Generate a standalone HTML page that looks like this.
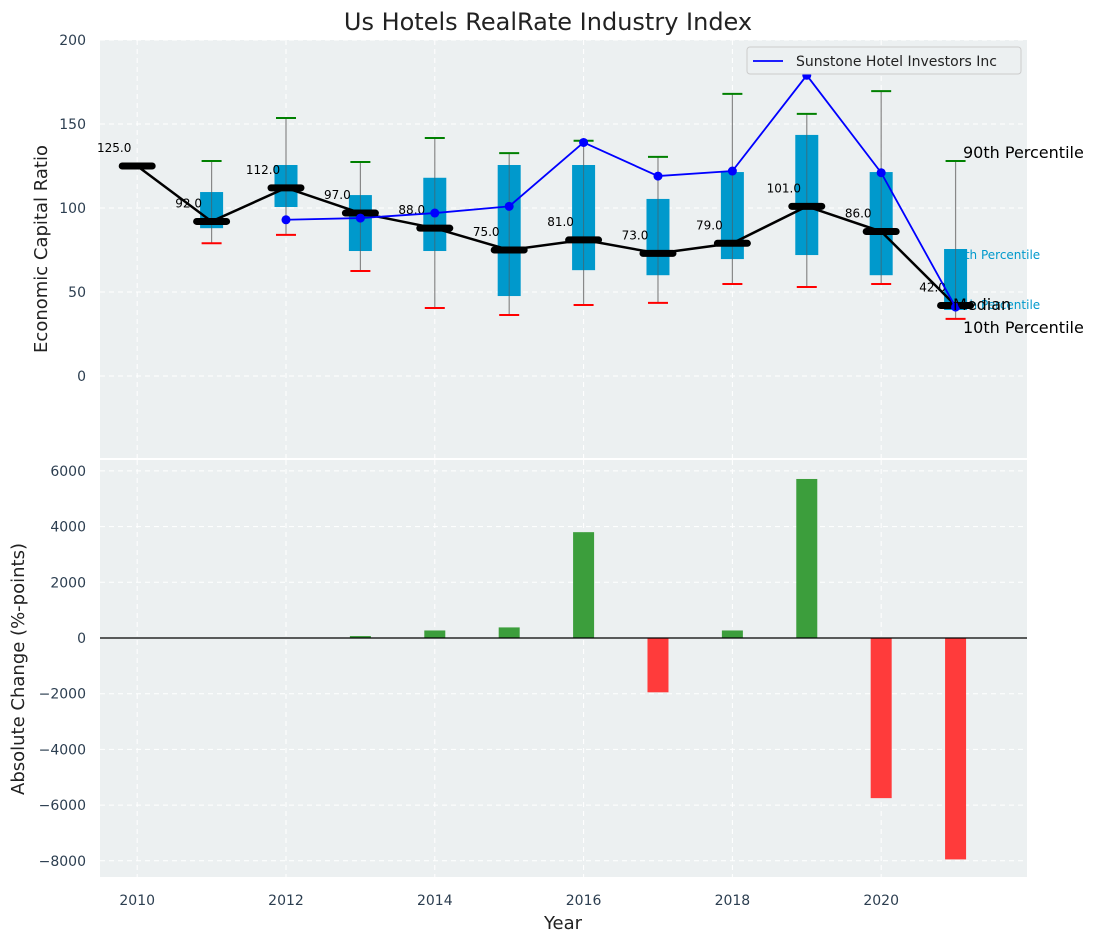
<!DOCTYPE html>
<html><head><meta charset="utf-8"><style>
body{margin:0;background:#fff;font-family:"Liberation Sans","DejaVu Sans",sans-serif}
svg text{font-family:"DejaVu Sans","Liberation Sans",sans-serif}
</style></head><body>
<svg id="c" width="1098" height="942" xmlns="http://www.w3.org/2000/svg"></svg>
<script>
const years=[2010,2011,2012,2013,2014,2015,2016,2017,2018,2019,2020,2021];
const medians=[125,92,112,97,88,75,81,73,79,101,86,42];
const boxYears=[2011,2012,2013,2014,2015,2016,2017,2018,2019,2020,2021];
const q75=[109.5,125.6,107.7,118,125.6,125.6,105.4,121.4,143.5,121.4,75.6];
const q25=[88,100.6,74.4,74.4,47.6,63,60,69.6,72,60,39.3];
const p90=[128,153.6,127.4,141.7,132.7,140,130.4,167.9,156,169.6,128];
const p10=[79,84,62.5,40.5,36.3,42.3,43.5,54.8,53,54.8,34];
const sunYears=[2012,2013,2014,2015,2016,2017,2018,2019,2020,2021];
const sunVals=[93,94,97,101,139,119,122,179,121,41];
const chgYears=[2013,2014,2015,2016,2017,2018,2019,2020,2021];
const chgVals=[70,270,380,3800,-1950,270,5710,-5750,-7950];
const topTicks=[0,50,100,150,200];
const botTicks=[-8000,-6000,-4000,-2000,0,2000,4000,6000];
const xTicks=[2010,2012,2014,2016,2018,2020];

const svg=document.getElementById('c');const NS='http://www.w3.org/2000/svg';
function el(t,a,p){const e=document.createElementNS(NS,t);for(const k in a)e.setAttribute(k,a[k]);(p||svg).appendChild(e);return e;}
const L=100,R=1027;
const x=v=>L+(v-2009.5)/(2021.96-2009.5)*(R-L);
const T0=40,T1=458,yT=v=>T0+(200-v)/(200+48.8)*(T1-T0);
const B0=460,B1=877,yB=v=>B0+(6391-v)/(6391+8582)*(B1-B0);
const tc='#2c3e50';

let e=el('rect',{x:L,y:T0,width:R-L,height:T1-T0,fill:'#ecf0f1'});

e=el('rect',{x:L,y:B0,width:R-L,height:B1-B0,fill:'#ecf0f1'});

xTicks.forEach(t=>{
 el('line',{x1:x(t),x2:x(t),y1:T0,y2:T1,stroke:'#fff','stroke-dasharray':'5,4'});
 el('line',{x1:x(t),x2:x(t),y1:B0,y2:B1,stroke:'#fff','stroke-dasharray':'5,4'});
 e=el('text',{x:x(t),y:905,'font-size':14,fill:tc,'text-anchor':'middle'});e.textContent=t;
 
});
topTicks.forEach(t=>{
 el('line',{x1:L,x2:R,y1:yT(t),y2:yT(t),stroke:'#fff','stroke-dasharray':'5,4'});
 e=el('text',{x:86,y:yT(t)+5,'font-size':14,fill:tc,'text-anchor':'end'});e.textContent=t;
 
});
botTicks.forEach(t=>{
 el('line',{x1:L,x2:R,y1:yB(t),y2:yB(t),stroke:'#fff','stroke-dasharray':'5,4'});
 e=el('text',{x:86,y:yB(t)+5,'font-size':14,fill:tc,'text-anchor':'end'});e.textContent=(t<0?'\u2212'+(-t):t);
 
});
const lx=x(2021);
[['75th Percentile',yT(q75[10])+10],['25th Percentile',yT(q25[10])-1]].forEach(a=>{
 e=el('text',{x:lx-6,y:a[1],'font-size':12,fill:'#0099cc'});e.textContent=a[0];
 
});
boxYears.forEach((yr,i)=>{
 const cx=x(yr);
 el('line',{x1:cx,x2:cx,y1:yT(p90[i]),y2:yT(p10[i]),stroke:'#888','stroke-width':1.2});
 e=el('rect',{x:cx-11.5,y:yT(q75[i]),width:23,height:yT(q25[i])-yT(q75[i]),fill:'#0099cc'});
 
 el('line',{x1:cx,x2:cx,y1:yT(q75[i]),y2:yT(q25[i]),stroke:'#555','stroke-width':1,opacity:0.6});
 e=el('line',{x1:cx-10,x2:cx+10,y1:yT(p90[i]),y2:yT(p90[i]),stroke:'green','stroke-width':2});
 
 e=el('line',{x1:cx-10,x2:cx+10,y1:yT(p10[i]),y2:yT(p10[i]),stroke:'red','stroke-width':2});
 
});
e=el('polyline',{points:years.map((y,i)=>x(y)+','+yT(medians[i])).join(' '),fill:'none',stroke:'#000','stroke-width':2.5});

years.forEach((yr,i)=>{
 e=el('line',{x1:x(yr)-15,x2:x(yr)+15,y1:yT(medians[i]),y2:yT(medians[i]),stroke:'#000','stroke-width':7,'stroke-linecap':'round'});
 
 e=el('text',{x:x(yr)-23,y:yT(medians[i])-14,'font-size':12,fill:'#000','text-anchor':'middle'});e.textContent=medians[i].toFixed(1);
 
});
e=el('polyline',{points:sunYears.map((y,i)=>x(y)+','+yT(sunVals[i])).join(' '),fill:'none',stroke:'blue','stroke-width':1.8});

sunYears.forEach((yr,i)=>{e=el('circle',{cx:x(yr),cy:yT(sunVals[i]),r:4.5,fill:'blue'});
 });
[['90th Percentile',158],['Median',310],['10th Percentile',333]].forEach((a,i)=>{
 e=el('text',{x:i==1?953:963,y:a[1],'font-size':16,fill:'#000'});e.textContent=a[0];
 
});
e=el('rect',{x:747,y:47,width:274,height:27,fill:'#ecf0f1',stroke:'#ccc',rx:3});

el('line',{x1:753,x2:783,y1:61,y2:61,stroke:'blue','stroke-width':1.8});
e=el('text',{x:796,y:66,'font-size':14,fill:'#222'});e.textContent='Sunstone Hotel Investors Inc';

chgYears.forEach((yr,i)=>{
 const v=chgVals[i],y0=yB(0),y1=yB(v);
 e=el('rect',{x:x(yr)-10.5,y:Math.min(y0,y1),width:21,height:Math.abs(y1-y0),fill:v>=0?'#3c9e3c':'#ff3b3b'});
 
});
el('line',{x1:L,x2:R,y1:yB(0),y2:yB(0),stroke:'#000','stroke-width':1.2});
e=el('text',{x:548,y:30,'font-size':24,fill:'#222','text-anchor':'middle'});e.textContent='Us Hotels RealRate Industry Index';

e=el('text',{x:0,y:0,'font-size':18,fill:'#222','text-anchor':'middle',transform:'translate(47,249) rotate(-90)'});e.textContent='Economic Capital Ratio';

e=el('text',{x:0,y:0,'font-size':18,fill:'#222','text-anchor':'middle',transform:'translate(24,669) rotate(-90)'});e.textContent='Absolute Change (%-points)';

e=el('text',{x:563,y:929,'font-size':18,fill:'#222','text-anchor':'middle'});e.textContent='Year';

</script>
</body></html>
